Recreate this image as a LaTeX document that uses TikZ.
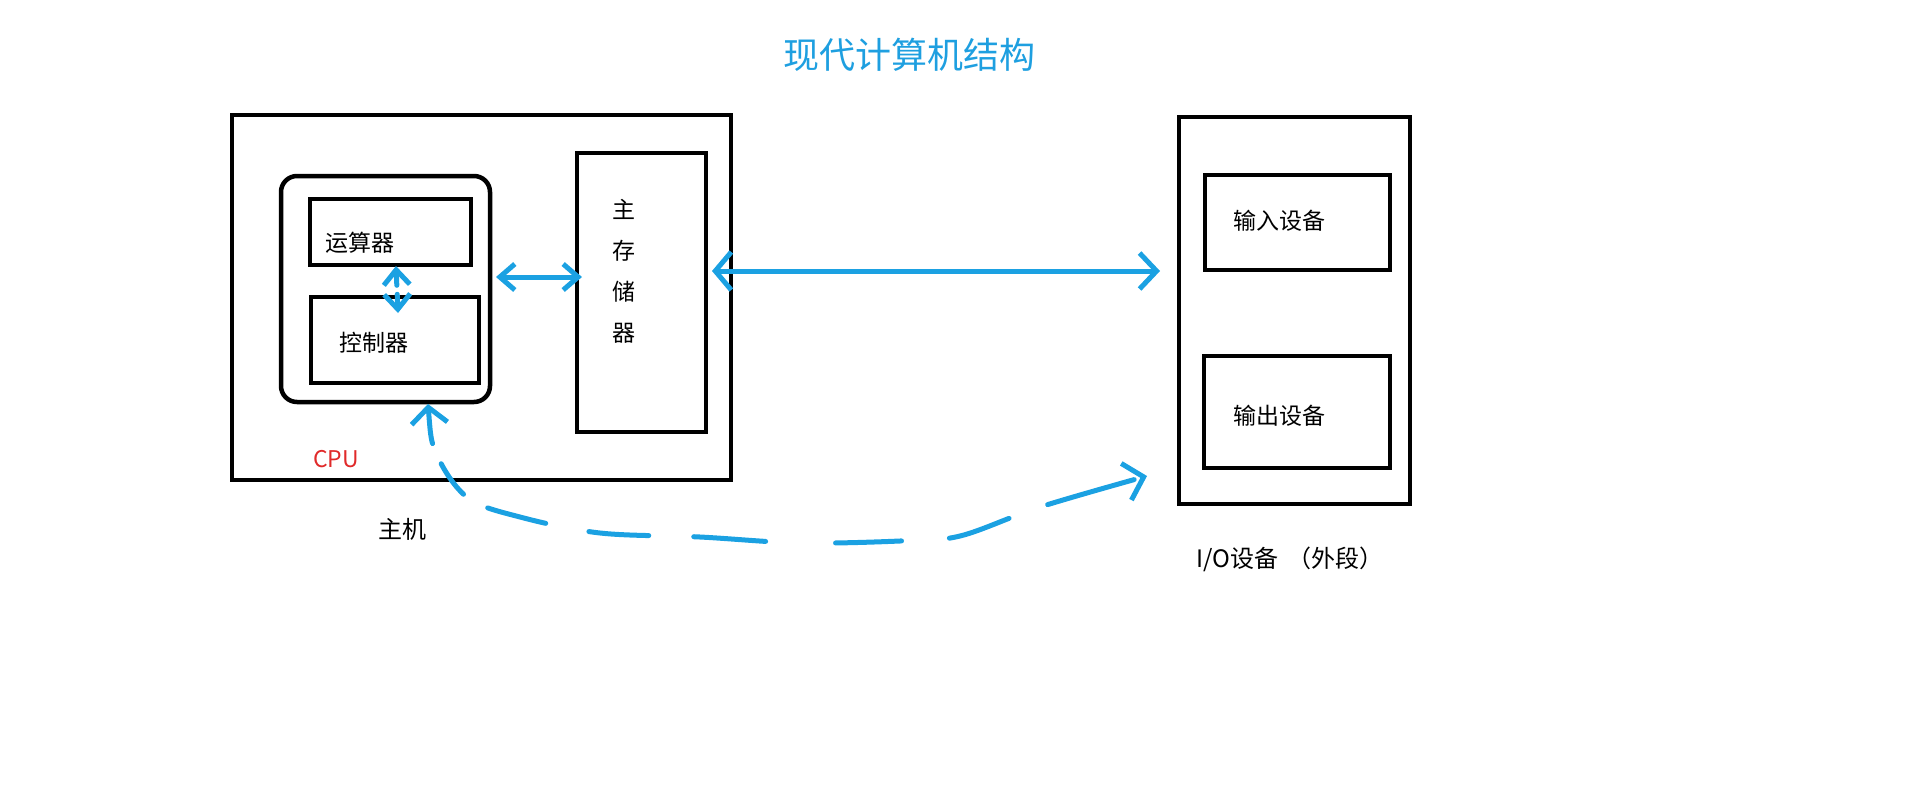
\documentclass[tikz,border=0pt]{standalone}
\usepackage{fontspec}
\newfontfamily\cjk{Noto Sans CJK SC}
\usetikzlibrary{arrows.meta}
\definecolor{arrowblue}{HTML}{1BA1E2}
\definecolor{titleblue}{HTML}{1E9FE0}
\definecolor{cpured}{HTML}{E02A2A}
\begin{document}
\begin{tikzpicture}[x=1pt,y=-1pt,
  box/.style={draw=black,line width=4.5pt,inner sep=0pt,outer sep=0pt},
  txt/.style={font=\cjk\fontsize{23}{28}\selectfont,inner sep=0pt,outer sep=0pt},
  link/.style={draw=arrowblue,line width=5pt,line cap=round,line join=round},
  smalltips/.style={{Straight Barb[length=15pt,width=26pt]}-{Straight Barb[length=15pt,width=26pt]}},
  bigtips/.style={{Straight Barb[length=16pt,width=38pt]}-{Straight Barb[length=17pt,width=36pt]}},
  curvetips/.style={{Straight Barb[length=16pt,width=36pt]}-{Straight Barb[length=18pt,width=38pt]}},
  handdash/.style={dash pattern=on 34pt off 22pt on 38pt off 28pt on 60pt off 44pt on 60pt off 45pt on 72pt off 70pt on 66pt off 48pt on 63pt off 41pt on 90pt off 20pt},
]
\useasboundingbox (0,0) rectangle (1914,788);

% title
\node[txt,text=titleblue,font=\cjk\fontsize{36}{40}\selectfont] (title) at (909,55) {现代计算机结构};

% host
\node[box,minimum width=499pt,minimum height=365pt] (host) at (481.5,297.5) {};
\node[box,rounded corners=16pt,minimum width=209pt,minimum height=226pt] (cpu) at (385.5,289) {};
\node[box,minimum width=161pt,minimum height=66pt] (alu) at (390.5,232) {};
\node[box,minimum width=168pt,minimum height=86pt] (ctl) at (395,340) {};
\node[box,minimum width=129pt,minimum height=279pt] (mem) at (641.5,292.5) {};

\node[txt,anchor=west] (alutext) at (325,243) {运算器};
\node[txt,anchor=west] (ctltext) at (339,343) {控制器};
\node[txt,align=center,font=\cjk\fontsize{23}{41}\selectfont] (memtext) at (624,271) {主\\存\\储\\器};
\node[txt,anchor=west,text=cpured] (cputext) at (313,459) {CPU};
\node[txt,anchor=west,font=\cjk\fontsize{24}{28}\selectfont] (hosttext) at (378,529) {主机};

% I/O
\node[box,minimum width=231pt,minimum height=387pt] (io) at (1294.5,310.5) {};
\node[box,minimum width=185pt,minimum height=95pt] (inp) at (1297.5,222.5) {};
\node[box,minimum width=186pt,minimum height=112pt] (outp) at (1297,412) {};
\node[txt,anchor=west] (inptext) at (1233,221) {输入设备};
\node[txt,anchor=west] (outptext) at (1233,416) {输出设备};
\node[txt,anchor=west,font=\cjk\fontsize{24}{28}\selectfont] (iotext) at (1196,559) {I/O设备\hspace{10pt}（外段）};

% connector ends
\coordinate (cs) at ([shift={(42.5pt,-2pt)}]cpu.south);
\coordinate (ce) at ([shift={(-32pt,28pt)}]io.south west);

% connectors
\draw[link,smalltips] ([shift={(6pt,12pt)}]cpu.east) -- ([shift={(5pt,15.5pt)}]mem.west);
\draw[link,bigtips] ([shift={(6pt,21.5pt)}]mem.east) -- ([shift={(-19pt,39.5pt)}]io.west);
\draw[link,smalltips,dash pattern=on 13pt off 9pt] ([shift={(5.5pt,-1pt)}]alu.south) -- ([shift={(3pt,-16pt)}]ctl.north);
\draw[link,curvetips,handdash] plot[smooth,tension=0.55] coordinates {(cs) (437,455) (468,498) (520,517) (600,533) (700,537) (800,543) (900,541) (960,536) (1040,507) (ce)};
\end{tikzpicture}
\end{document}
